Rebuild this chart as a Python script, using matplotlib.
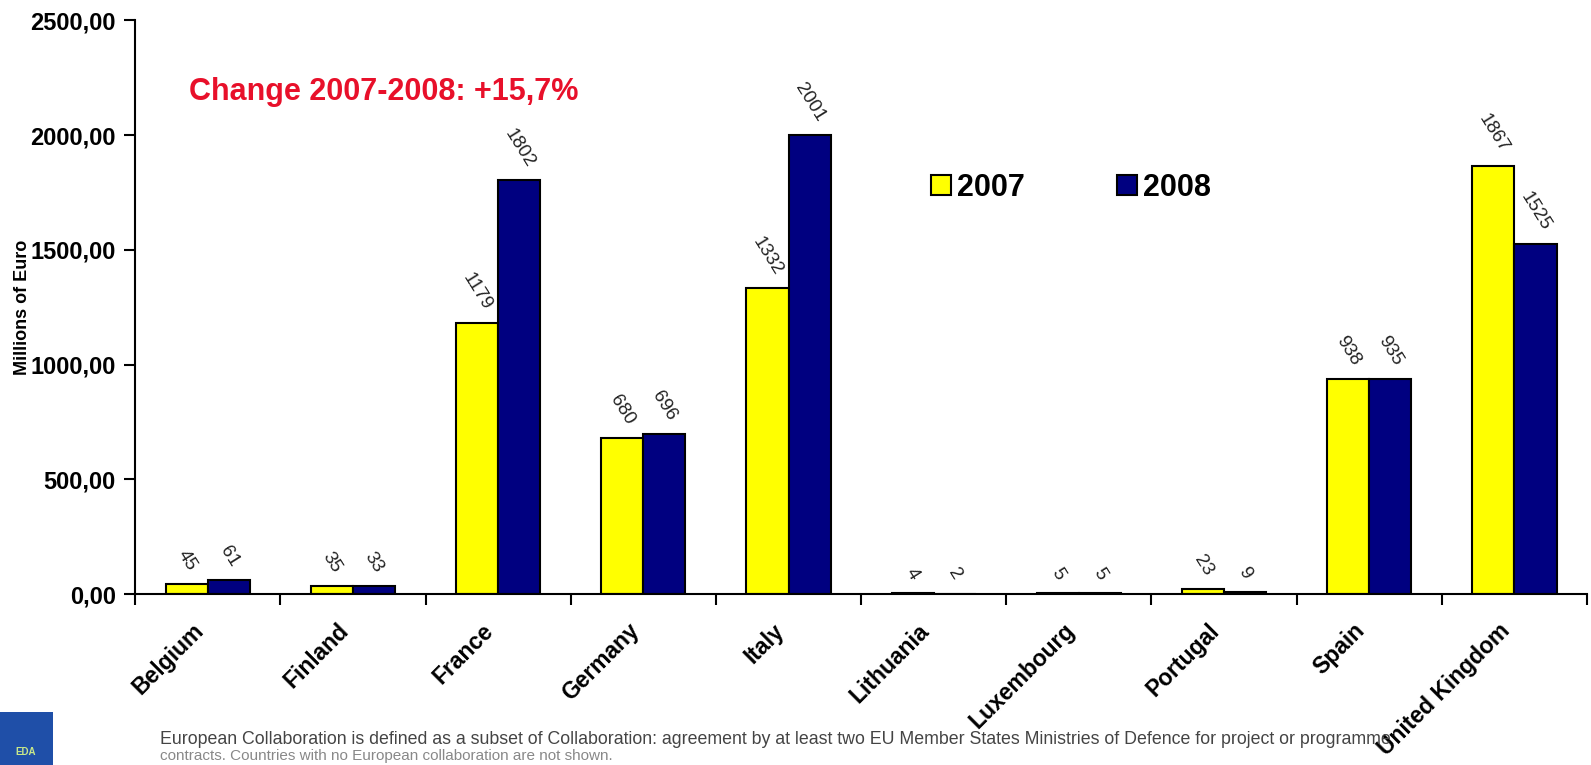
import numpy as np
import matplotlib
matplotlib.use("Agg")
import matplotlib.pyplot as plt
from matplotlib.patches import Rectangle
from matplotlib.transforms import ScaledTranslation

countries = ["Belgium", "Finland", "France", "Germany", "Italy", "Lithuania",
             "Luxembourg", "Portugal", "Spain", "United Kingdom"]
values_2007 = [45, 35, 1179, 680, 1332, 4, 5, 23, 938, 1867]
values_2008 = [61, 33, 1802, 696, 2001, 2, 5, 9, 935, 1525]
y_ticks = [0, 500, 1000, 1500, 2000, 2500]

plt.rcParams['font.family'] = ['Liberation Sans', 'DejaVu Sans']

fig = plt.figure(figsize=(15.91, 7.65), dpi=100)
ax = fig.add_axes([0.085, 0.2235, 0.9125, 0.75])

x = np.arange(len(countries))
w = 0.29
ax.bar(x - w / 2, values_2007, w, color='#ffff00', edgecolor='black', linewidth=1.5, label='2007')
ax.bar(x + w / 2, values_2008, w, color='#000080', edgecolor='black', linewidth=1.5, label='2008')

# value labels above bars
for i in range(len(countries)):
    ax.text(x[i] - w / 2, values_2007[i] + 45, str(values_2007[i]), rotation=-58,
            ha='center', va='bottom', fontsize=13.5, color='#222222')
    ax.text(x[i] + w / 2, values_2008[i] + 45, str(values_2008[i]), rotation=-58,
            ha='center', va='bottom', fontsize=13.5, color='#222222')

ax.set_xlim(-0.5, len(countries) - 0.5)
ax.set_ylim(0, 2500)
ax.set_yticks(y_ticks)
ax.set_yticklabels(["%d,00" % v for v in y_ticks], fontsize=17, fontweight='bold')
ax.tick_params(axis='y', direction='out', length=8, width=1.5, pad=6)

ax.set_xticks(x)
ax.set_xticklabels(countries, rotation=45, ha='right', rotation_mode='anchor',
                   fontsize=16.5, fontweight='bold')
ax.tick_params(axis='x', which='major', length=0, pad=18)
ax.set_xticks(np.arange(-0.5, len(countries), 1), minor=True)
ax.tick_params(axis='x', which='minor', direction='out', length=8, width=1.5)
shift = ScaledTranslation(-16 / 100, 0, fig.dpi_scale_trans)
for lbl in ax.get_xticklabels():
    lbl.set_transform(lbl.get_transform() + shift)

for s in ['top', 'right']:
    ax.spines[s].set_visible(False)
ax.spines['left'].set_linewidth(1.5)
ax.spines['bottom'].set_linewidth(1.5)

ax.set_ylabel("Millions of Euro", fontsize=13, fontweight='bold')
ax.yaxis.set_label_coords(-0.0715, 0.5)

ax.text(0.037, 0.875, "Change 2007-2008: +15,7%", transform=ax.transAxes,
        color='#e8102a', fontsize=22, fontweight='bold', va='center')

ax.legend(loc='center left', bbox_to_anchor=(0.54, 0.708), ncol=2, frameon=False,
          prop={'size': 22, 'weight': 'bold'}, handlelength=0.65, handleheight=0.65,
          handletextpad=0.2, columnspacing=3.0, borderaxespad=0)

# EDA logo placeholder
fig.patches.append(Rectangle((0, 0), 53 / 1591, 53 / 765, transform=fig.transFigure,
                             facecolor='#1f4fa8', edgecolor='none'))
fig.text(26 / 1591, 8 / 765, "EDA", color='#c8e88a', fontsize=7, fontweight='bold',
         ha='center', va='bottom')

fig.text(160 / 1591, 1 - 740 / 765,
         "European Collaboration is defined as a subset of Collaboration: agreement by at least two EU Member States Ministries of Defence for project or programme",
         fontsize=12.8, color='#444444', va='center')
fig.text(160 / 1591, 2 / 765,
         "contracts. Countries with no European collaboration are not shown.",
         fontsize=11, color='#888888', va='bottom')

fig.savefig("out.png", dpi=100)
